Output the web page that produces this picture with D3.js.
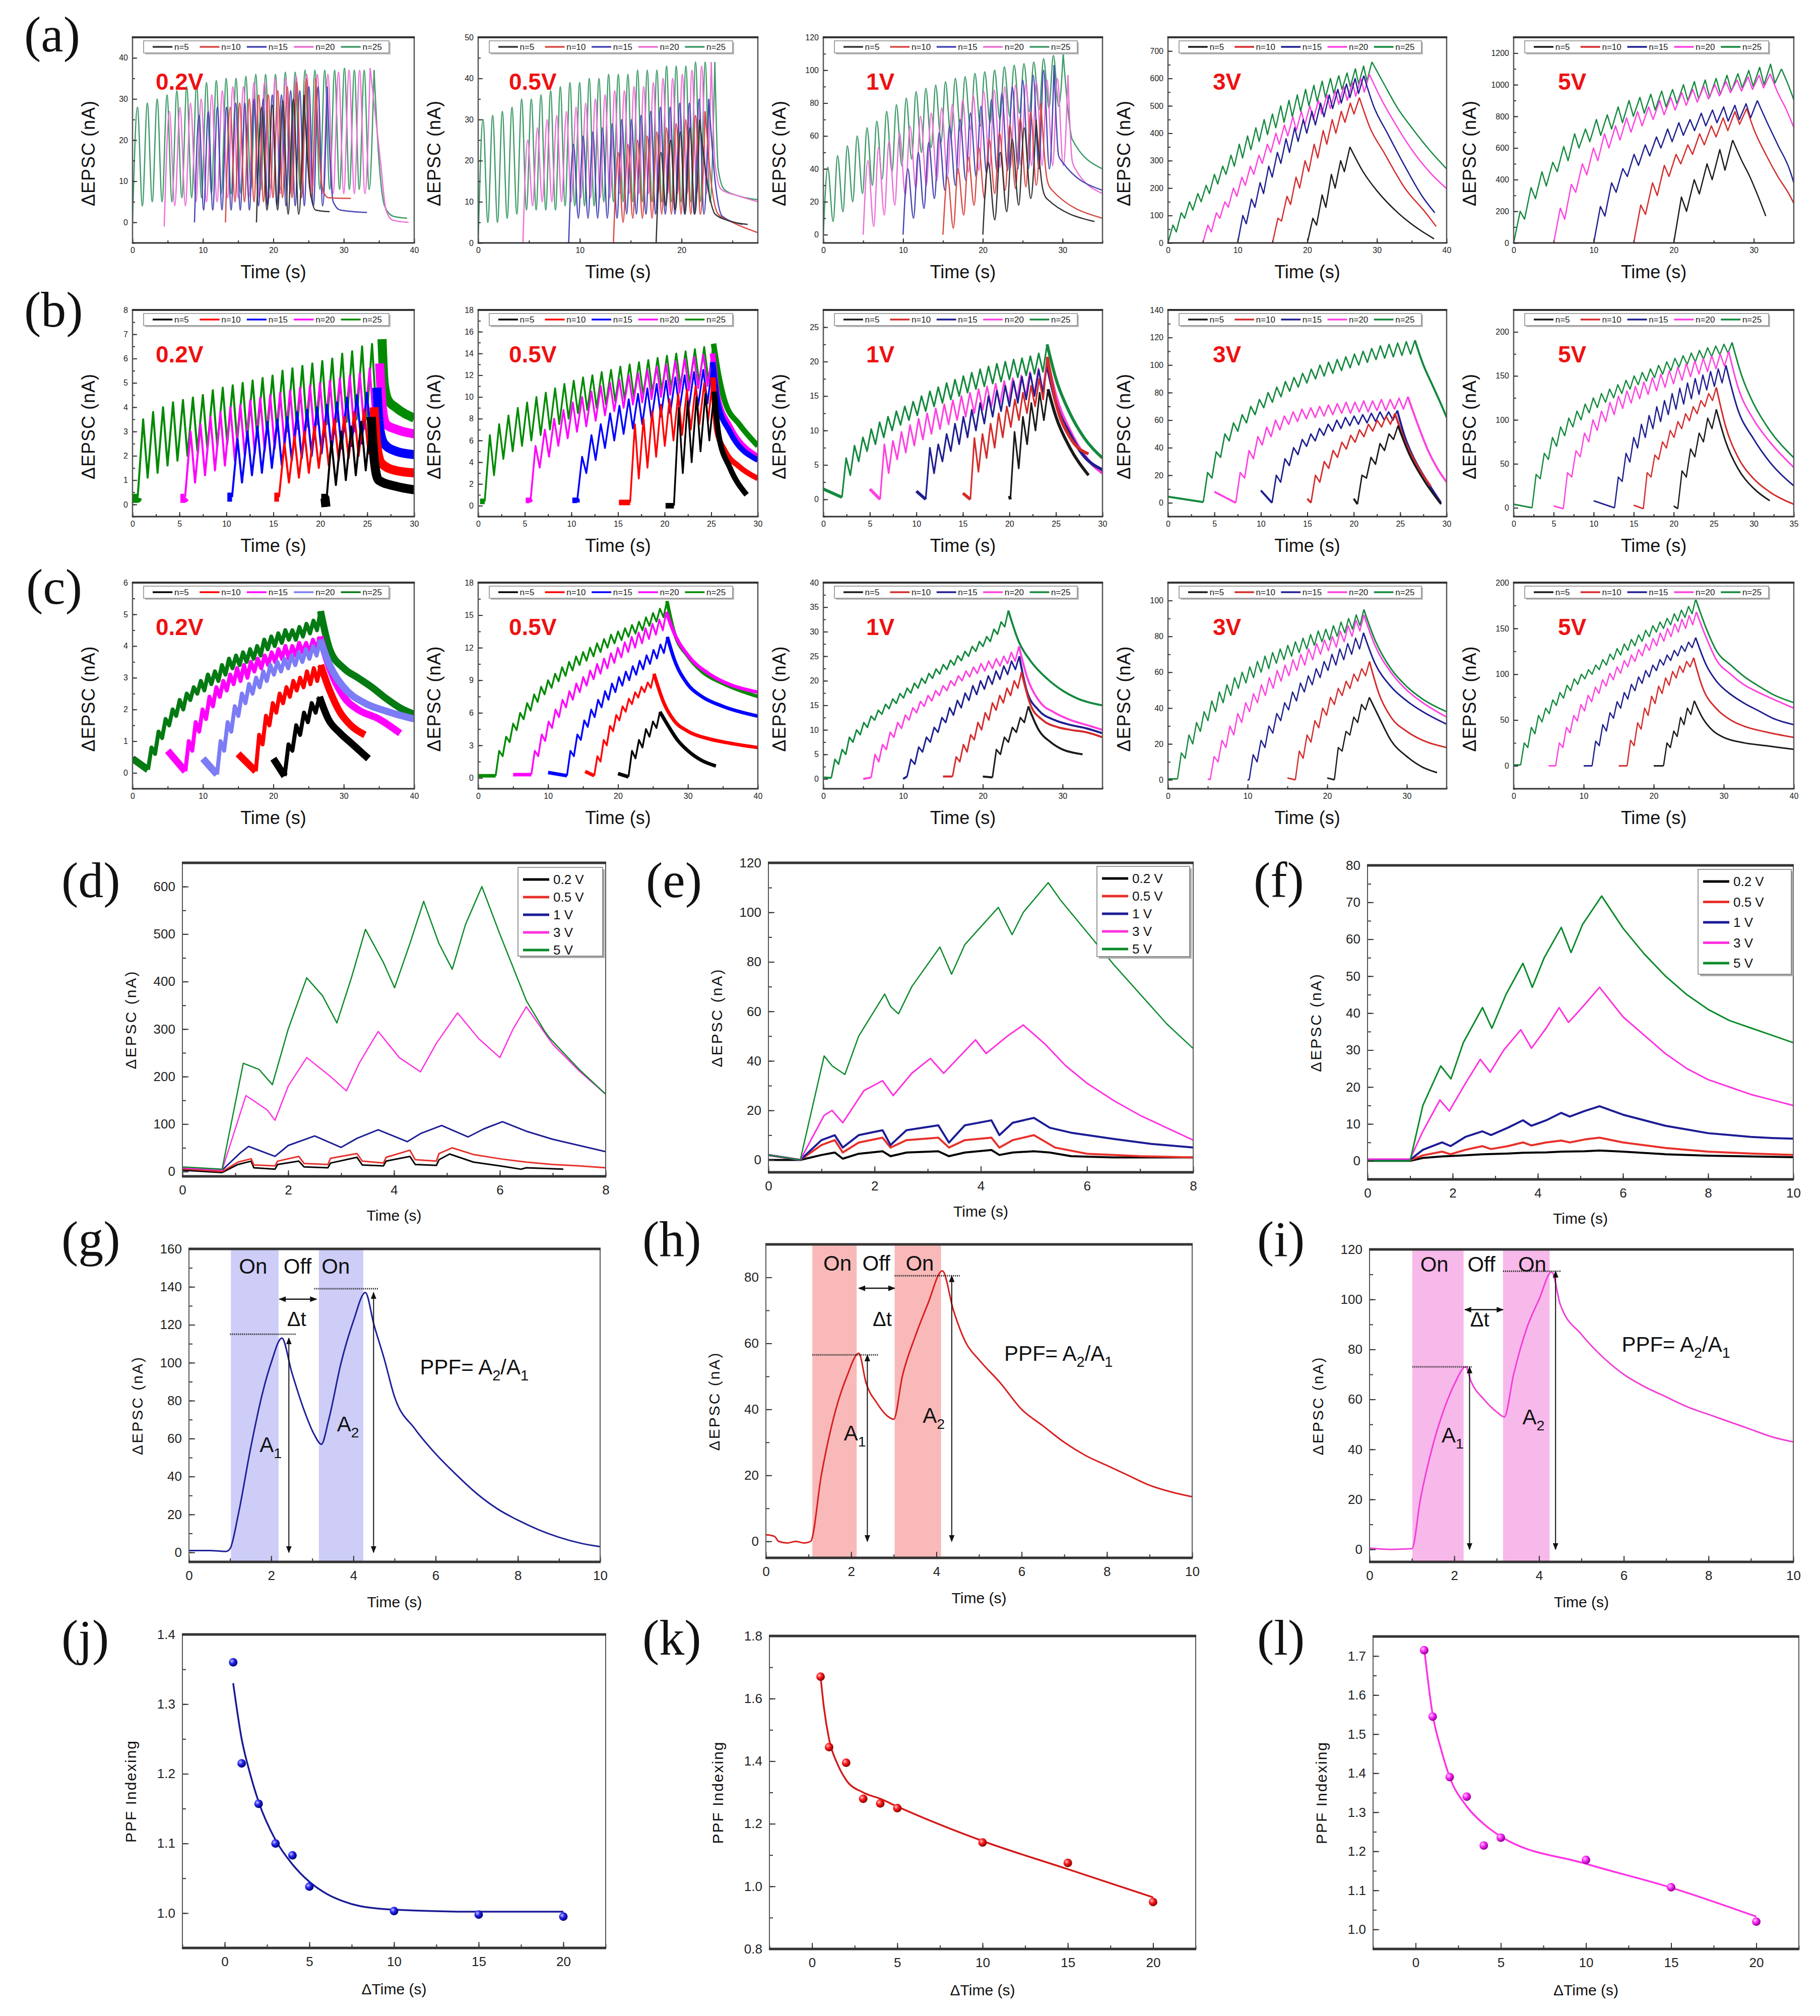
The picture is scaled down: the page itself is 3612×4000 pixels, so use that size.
<!DOCTYPE html>
<html lang="en">
<head>
<meta charset="UTF-8">
<title>EPSC and PPF panels</title>
<script src="https://cdnjs.cloudflare.com/ajax/libs/d3/7.8.5/d3.min.js"></script>
<style>
  body { margin: 0; background: #fff; }
  svg { display: block; font-family: "Liberation Sans", Arial, sans-serif; }
</style>
</head>
<body>
<div id="chart"></div>
<script>
// ================= DATA =================
const nLabels = ["n=5", "n=10", "n=15", "n=20", "n=25"];
const voltLabels = ["0.2V", "0.5V", "1V", "3V", "5V"];
const legendV = ["0.2 V", "0.5 V", "1 V", "3 V", "5 V"];

// grid axes (a1..a5, b1..b5, c1..c5)
const gridXDomain = [[0,40],[0,27.5],[0,35],[0,40],[0,35], [0,30],[0,30],[0,30],[0,30],[0,35], [0,40],[0,40],[0,35],[0,35],[0,40]];
const gridXTicks = [[0,10,20,30,40],[0,10,20],[0,10,20,30],[0,10,20,30,40],[0,10,20,30],
  [0,5,10,15,20,25,30],[0,5,10,15,20,25,30],[0,5,10,15,20,25,30],[0,5,10,15,20,25,30],[0,5,10,15,20,25,30,35],
  [0,10,20,30,40],[0,10,20,30,40],[0,10,20,30],[0,10,20,30],[0,10,20,30,40]];
const gridXMinor = [5,5,5,5,5, 2.5,2.5,2.5,2.5,2.5, 5,5,5,5,5];
const gridYDomain = [[-5,45],[0,50],[-5,120],[0,750],[0,1300], [-0.5,8],[-1,18],[-2.5,27.5],[-10,140],[-10,225], [-0.5,6],[-1,18],[-2,40],[-5,110],[-25,200]];
const gridYTicks = [[0,10,20,30,40],[0,10,20,30,40,50],[0,20,40,60,80,100,120],[0,100,200,300,400,500,600,700],[0,200,400,600,800,1000,1200],
  [0,1,2,3,4,5,6,7,8],[0,2,4,6,8,10,12,14,16,18],[0,5,10,15,20,25],[0,20,40,60,80,100,120,140],[0,50,100,150,200],
  [0,1,2,3,4,5,6],[0,3,6,9,12,15,18],[0,5,10,15,20,25,30,35,40],[0,20,40,60,80,100],[0,50,100,150,200]];
const gridYMinor = [5,5,10,50,100, 0.5,1,2.5,10,25, 0.5,1.5,2.5,10,25];

// ---- row (a) ----  series order: n=5, n=10, n=15, n=20, n=25
const a1Start = [17.6, 13.2, 8.8, 4.5, 0];
const a1Period = [1.5, 1.35, 1.3, 1.5, 1.4];
const a1Trough = [
  [0,3,3,2,2],
  [0,5,5,5,5,6,6,6,6,6],
  [0,3,3,3,3,3,3,4,4,4,4,4,4,4,4],
  [-1,4,4,5,5,5,6,6,6,6,6,7,7,7,7,7,7,7,7,7],
  [0,4,5,5,5,6,6,6,7,7,7,7,8,8,8,8,8,8,8,8,8,8,8,8,8]];
const a1Peak = [
  [28,28.5,29.5,30,31],
  [28,29,30,31,31,32,33,34,35,35],
  [26,27,28,28,29,29,30,30,31,31,32,32,33,33,33],
  [27,28,29,30,31,32,33,33,34,34,35,35,35.5,36,36,36,36.5,37,37,37.5],
  [28,29,30,31,32,33,33.5,34,34.5,35,35,35.5,36,36,36,36.5,36.5,37,37,37,37,37.5,37,37,37]];
const a1Tail = [
  [[25.2,8],[26,3],[28,2.6]],
  [[27,8],[27.8,6],[31,5.8]],
  [[28.5,5],[29.5,3],[33.3,2.4]],
  [[35.2,15],[36,3],[37,0.5],[39.2,0]],
  [[35,15],[35.8,4],[37,1.5],[39,1]]];

const a2Start = [17.5, 13.3, 8.9, 4.4, 0];
const a2Period = [0.95, 0.95, 0.95, 0.95, 0.95];
const a2Trough = [
  [0,9,8,7,7],
  [0,5,6,6,6,7,7,7,7,7],
  [0,6,6,6,6,6,7,7,7,7,7,7,7,7,7],
  [0,9,10,10,10,10,11,11,11,11,12,12,12,12,12,12,12,12,12,12],
  [0,5,5,6,7,8,8,8,8,9,9,9,9,10,10,10,10,10,10,10,10,10,10,10,10]];
const a2Peak = [
  [22,25,27,28,30],
  [22,24,25,26,27,28,29,30,31,32],
  [24,26,27,28,29,30,30,31,32,33,33,34,34,35,35],
  [25,28,30,31,32,33,34,35,36,37,37,38,38,39,40,40,41,42,43,44],
  [30,31,32,33,35,35,36,37,38,39,39,40,40,41,41,41,42,42,42,43,43,43,44,44,44]];
const a2Tail = [
  [[22.5,15],[23.3,7],[24.5,5.5],[26.5,4.5]],
  [[22.9,15],[23.6,7],[25,5],[27.5,2.5]],
  [[23.3,15],[24,6.5],[26,4.5]],
  [[23.3,19],[23.9,13],[25.5,11.5],[27.5,10]],
  [[23.6,18],[24.2,13],[25.5,11.5],[27.5,10.5]]];

const a3Start = [20, 15, 10, 5, 0];
const a3Period = [1.5, 1.3, 1.31, 1.32, 1.23];
const a3Trough = [
  [0,9,14,18,22],
  [0,4,12,18,22,25,27,28,29,30],
  [0,10,16,22,27,30,33,35,37,38,39,40,40,40,40],
  [0,5,12,18,24,28,30,33,35,37,38,39,40,41,41,42,42,42,42,42],
  [0,8,14,20,25,30,34,38,42,46,50,53,56,59,62,64,66,68,70,72,74,75,76,77,78]];
const a3Peak = [
  [44,50,58,65,70],
  [35,40,47,53,58,62,67,71,75,80],
  [40,50,56,62,66,70,74,78,82,86,90,94,97,100,103],
  [45,53,57,62,66,72,74,77,79,82,85,87,88,90,91,92,93,94,95,97],
  [41,48,54,60,65,69,75,79,83,87,89,91,93,95,96,98,99,100,102,103,104,105,107,109,110]];
const a3Tail = [
  [[27.5,28],[28,22],[34,8]],
  [[28,35],[28.5,28],[35,10]],
  [[29.5,48],[30,44],[35,27]],
  [[31.2,45],[31.6,40],[35,25]],
  [[30.8,70],[31.2,58],[35,40]]];

const a4Start = [20, 15, 10, 5, 0];
const a4Period = [1.33, 1.3, 1.24, 1.22, 1.19];
const a4Trough = [
  [0,65,130,200,260],
  [0,80,140,200,260,310,360,400,440,470],
  [0,70,130,180,240,290,330,370,400,430,460,490,510,530,545],
  [0,40,90,130,170,210,250,290,330,360,390,410,430,450,470,490,505,520,535,550],
  [0,40,90,120,150,180,215,250,280,310,340,370,395,420,440,460,480,500,515,530,545,560,570,580,590]];
const a4Peak = [
  [90,175,250,300,350],
  [90,170,240,300,360,410,450,480,510,530],
  [100,160,220,280,330,380,420,450,480,510,540,560,580,600,610],
  [65,110,150,200,240,280,320,360,400,430,460,480,500,520,540,555,570,585,600,615],
  [65,110,150,180,210,250,280,320,360,390,420,450,470,500,520,540,560,575,590,600,610,620,635,645,660]];
const a4Tail = [
  [[28,260],[30,190],[33,110],[36,50],[38.2,15]],
  [[29,420],[31,330],[34,200],[37,110],[38.5,60]],
  [[29.5,500],[31.5,400],[34,280],[36.5,170],[38.3,110]],
  [[30.5,530],[32.5,440],[35,340],[37.5,260],[40,198]],
  [[31,580],[33,490],[35,420],[37.5,340],[40,270]]];

const a5Start = [20, 15, 10, 5, 0];
const a5Period = [1.6, 1.47, 1.4, 1.38, 1.36];
const a5Trough = [
  [0,200,310,400,460],
  [0,180,300,420,500,560,620,670,710,750],
  [0,170,320,420,490,550,600,640,680,710,740,760,770,780,790],
  [0,150,320,430,520,600,650,700,740,780,810,840,870,890,910,930,950,960,970,980],
  [0,150,280,360,450,520,600,640,680,720,760,800,820,840,860,880,900,910,920,940,960,980,990,1000,1010]];
const a5Peak = [
  [290,400,500,590,650],
  [240,380,490,560,620,690,740,790,830,850],
  [230,380,470,560,620,670,720,760,780,820,840,860,870,880,900],
  [220,370,500,600,690,740,790,830,860,900,920,950,970,990,1000,1020,1030,1050,1060,1070],
  [200,350,450,510,610,690,720,780,810,860,900,920,940,960,970,1000,1020,1030,1040,1060,1070,1090,1110,1130,1100]];
const a5Tail = [
  [[28.5,520],[29.5,420],[30.5,300],[31.5,170]],
  [[30,720],[31.5,560],[33,420],[34.5,300],[35,250]],
  [[31.5,780],[33,620],[34.5,460],[35,380]],
  [[33,950],[34,850],[35,730]],
  [[34.3,1000],[35,905]]];

// ---- row (b) ----
const b1Pre = [[[20.1,0.25],[20.5,0.25]], [[15.1,0.3],[15.5,0.3]], [[10.1,0.3],[10.6,0.3]], [[5.1,0.25],[5.5,0.25]], [[0.05,0.25],[0.5,0.25]]];
const b1Start = [20.6, 15.6, 10.6, 5.6, 0.55];
const b1Period = [1.06, 1.06, 1.06, 1.06, 1.06];
const b1Trough = [
  [-0.1,0.8,1.0,1.2,1.4],
  [0.3,0.9,1.1,1.3,1.5,1.6,1.8,1.9,2.0,2.1],
  [0.3,0.9,1.2,1.3,1.5,1.6,1.8,1.9,2.0,2.1,2.2,2.3,2.4,2.5,2.6],
  [0.3,0.9,1.2,1.4,1.6,1.8,2.0,2.1,2.2,2.3,2.4,2.5,2.6,2.7,2.8,2.9,3.0,3.0,3.1,3.1],
  [0.3,1.1,1.3,1.6,1.8,2.0,2.2,2.3,2.4,2.5,2.6,2.7,2.8,2.9,3.0,3.0,3.1,3.2,3.3,3.3,3.4,3.4,3.5,3.5,3.6]];
const b1Peak = [
  [2.6,3.0,3.2,3.4,3.6],
  [2.5,2.8,3.0,3.2,3.4,3.5,3.6,3.8,3.9,4.0],
  [2.7,3.0,3.2,3.4,3.5,3.6,3.8,3.9,4.0,4.1,4.2,4.4,4.5,4.6,4.8],
  [3.0,3.3,3.6,3.8,4.0,4.1,4.3,4.4,4.5,4.6,4.7,4.8,4.9,5.0,5.1,5.2,5.3,5.4,5.6,5.8],
  [3.5,3.8,4.0,4.2,4.3,4.4,4.5,4.7,4.8,4.9,5.0,5.1,5.2,5.3,5.5,5.6,5.7,5.8,5.9,6.0,6.2,6.3,6.5,6.6,6.8]];
const b1Tail = [
  [[25.7,2.0],[26.2,1.0],[28,0.75],[30,0.6]],
  [[26,2.5],[26.5,1.7],[28,1.4],[30,1.3]],
  [[26.3,3.2],[26.8,2.5],[28,2.2],[30,2.05]],
  [[26.6,4.0],[27,3.3],[28,3.1],[30,2.9]],
  [[26.8,5.0],[27.2,4.3],[28,4.0],[30,3.55]]];

const b2Pre = [[[20.1,0.0],[21.0,0.0]], [[15.1,0.3],[16.3,0.3]], [[10.1,0.5],[10.6,0.5]], [[5.1,0.5],[5.5,0.5]], [[0.2,0.4],[0.7,0.4]]];
const b2Start = [21.0, 16.3, 10.6, 5.6, 0.7];
const b2Period = [0.95, 0.93, 1.0, 1.0, 1.0];
const b2Trough = [
  [0.0,3.0,4.0,5.0,6.0],
  [0.3,2.5,3.5,4.5,5.5,6.0,6.5,7.0,7.5,7.8],
  [0.3,3.0,4.2,5.3,6.0,6.6,7.1,7.5,7.9,8.2,8.5,8.8,9.0,9.2,9.4],
  [0.3,3.5,4.5,5.5,6.2,6.8,7.3,7.8,8.3,8.7,9.0,9.3,9.5,9.8,10.0,10.2,10.4,10.6,10.8,11.0],
  [0.4,2.8,4.3,5.0,5.5,6.0,6.5,7.0,7.5,8.0,8.5,8.8,9.0,9.3,9.6,9.8,10.0,10.2,10.4,10.6,10.8,11.0,11.2,11.4,11.5]];
const b2Peak = [
  [9.0,9.6,10.0,10.3,10.5],
  [7.5,8.0,8.7,9.3,9.8,10.3,10.7,11.0,11.3,11.8],
  [4.5,6.5,7.5,8.5,9.2,9.8,10.3,10.8,11.2,11.5,11.8,12.0,12.3,12.5,13.2],
  [5.5,7.0,8.0,8.8,9.5,10.0,10.5,11.0,11.3,11.6,12.0,12.2,12.5,12.8,13.0,13.3,13.5,13.7,13.9,14.0],
  [6.5,7.5,8.3,9.0,9.5,10.0,10.4,10.8,11.2,11.5,11.8,12.0,12.3,12.5,12.8,13.0,13.2,13.4,13.6,13.8,14.0,14.2,14.4,14.6,14.9]];
const b2Tail = [
  [[25.8,6.5],[27,3.5],[28.8,1.0]],
  [[25.6,7.0],[26.5,5.0],[28,3.6],[30,2.5]],
  [[25.7,9.5],[27,6.8],[30,4.2]],
  [[25.7,10],[27,7.3],[30,4.5]],
  [[25.8,12],[26.5,9.5],[28,7.5],[30,5.5]]];

const b3Pre = [[[20,0.5],[20.1,0.0]], [[15,0.9],[15.8,0.0]], [[10,1.2],[11,0.0]], [[5,1.5],[6.1,0.0]], [[0,1.5],[2.0,0.3]]];
const b3Start = [20.1, 15.8, 11, 6.1, 2.0];
const b3Period = [0.9, 0.87, 0.9, 0.92, 0.9];
const b3Trough = [
  [0.0,4.5,8.0,10.0,11.5],
  [0.0,4.0,6.0,7.5,9.0,10.5,11.5,12.5,13.5,14.5],
  [0.0,3.8,5.5,7.0,8.0,9.0,10.0,11.0,12.0,12.8,13.5,14.0,14.5,15.0,15.5],
  [0.0,3.8,5.8,6.8,7.8,8.7,9.5,10.2,10.9,11.5,12.0,12.5,13.0,13.4,13.8,14.2,14.6,15.0,15.3,15.6],
  [0.3,3.5,5.5,7.0,8.0,9.0,10.0,10.8,11.5,12.2,12.8,13.5,14.0,14.5,15.0,15.5,16.0,16.4,16.8,17.1,17.4,17.7,18.0,18.2,18.5]];
const b3Peak = [
  [9.8,12.0,14.0,15.5,16.0],
  [8.9,9.5,11.0,12.5,13.5,14.5,15.5,16.5,17.5,20.7],
  [7.5,8.0,9.5,11.0,12.0,13.0,14.0,15.0,15.8,16.5,17.2,17.8,18.3,18.8,19.5],
  [8.0,8.5,9.8,10.8,11.7,12.5,13.2,13.8,14.4,15.0,15.5,16.0,16.4,16.8,17.2,17.6,18.0,18.5,19.0,20.5],
  [6.0,7.8,9.0,10.2,11.2,12.0,12.8,13.5,14.2,15.0,15.7,16.3,16.9,17.4,17.9,18.4,18.9,19.3,19.7,20.0,20.3,20.5,20.8,21.2,22.5]];
const b3Tail = [
  [[25,12],[26.5,7.5],[28.5,3.5]],
  [[25,14],[26.5,9],[28.5,6.6]],
  [[25,14],[26.5,9.5],[28,6.3],[30,4.3]],
  [[25,15],[26.5,10],[28,6.5],[30,3.8]],
  [[25,17.5],[26.5,12.5],[28,9],[30,6]]];

const b4Pre = [[[20,3],[20.4,-1]], [[15,3],[15.4,0]], [[10,9],[11.2,0]], [[5,8],[7.3,0]], [[0,4.5],[3.8,0.5]]];
const b4Start = [20.4, 15.4, 11.2, 7.3, 3.8];
const b4Period = [0.97, 0.95, 0.93, 0.95, 0.93];
const b4Trough = [
  [-1,18,28,38,46],
  [0,15,25,33,39,44,48,52,55,57],
  [0,15,27,35,41,45,49,52,54,56,57,58,59,60,60],
  [0,18,32,42,48,53,57,59,61,62,63,64,65,65,66,66,67,67,68,68],
  [0.5,18,33,45,52,58,64,69,73,77,81,84,87,90,92,94,96,98,100,102,104,105,106,107,108]];
const b4Peak = [
  [20,33,43,50,56],
  [20,30,38,44,49,53,57,60,63,65],
  [20,32,40,46,50,54,57,60,62,63,64,65,66,66,67],
  [22,38,48,55,60,63,66,68,69,70,71,72,73,73,74,74,75,75,76,77],
  [22,37,50,58,64,70,75,80,84,88,91,94,97,100,102,104,106,108,110,112,114,115,116,117,118]];
const b4Tail = [
  [[26,35],[27.5,17],[29.4,-1]],
  [[25.5,45],[27,25],[28.3,12]],
  [[25.5,48],[26.5,32],[27.5,20],[29.4,0]],
  [[27,55],[28,38],[29,25],[30,15]],
  [[27.5,100],[28.5,85],[29.5,70],[30,62]]];

const b5Pre = [[[20,2],[20.5,-1]], [[15,3],[16.2,-1]], [[10,8],[12.6,0]], [[5,2],[6.2,-1]], [[0,4],[2.3,0]]];
const b5Start = [20.5, 16.2, 12.6, 6.2, 2.3];
const b5Period = [1.07, 0.96, 0.96, 1.06, 1.02];
const b5Trough = [
  [-1,35,58,75,90],
  [-1,35,55,68,80,90,99,107,115,122],
  [0,30,52,68,80,90,98,106,112,118,124,129,134,138,142],
  [-1,35,58,75,88,98,106,113,119,124,129,133,137,141,145,149,152,155,158,161],
  [0,33,55,70,82,92,100,108,114,120,125,130,135,140,144,148,152,156,160,163,166,169,172,174,176]];
const b5Peak = [
  [42,67,85,102,112],
  [40,60,75,88,98,107,115,122,130,137],
  [35,62,80,95,105,115,122,130,136,142,147,151,155,158,162],
  [40,65,85,100,110,120,127,133,138,143,148,152,156,160,164,167,170,173,175,178],
  [38,62,80,92,102,110,118,125,130,135,140,145,150,154,158,162,166,170,173,176,179,182,184,186,188]];
const b5Tail = [
  [[26.5,75],[28,45],[30,22],[32,8]],
  [[26.5,92],[28,58],[30,33],[32,18],[35,4]],
  [[28,112],[30,78],[32,52],[35,25]],
  [[28,138],[30,100],[32,75],[35,46]],
  [[28.5,150],[30,118],[32,88],[35,57]]];

// ---- row (c) ----  (c1 trace order: start 20, 15, 10, 5, 0)
const c1Pre = [[[20,0.45],[21.6,-0.1]], [[15,0.6],[17.5,0.05]], [[10,0.45],[12,-0.05]], [[5,0.7],[7.5,0.05]], [[0,0.45],[2.2,0.1]]];
const c1Start = [21.6, 17.5, 12, 7.5, 2.2];
const c1Period = [1.1, 0.97, 1.01, 0.98, 1.0];
const c1Trough = [
  [-0.1,0.7,1.2,1.6,1.9],
  [0.05,0.9,1.5,1.9,2.2,2.4,2.6,2.7,2.8,2.9],
  [-0.05,0.7,1.3,1.8,2.2,2.5,2.7,2.9,3.1,3.2,3.3,3.4,3.5,3.6,3.7],
  [0.05,0.7,1.3,1.7,2.1,2.4,2.6,2.8,2.9,3.0,3.2,3.3,3.4,3.5,3.6,3.6,3.7,3.8,3.8,3.9],
  [0.1,0.6,1.1,1.5,1.8,2.0,2.3,2.5,2.6,2.8,2.9,3.1,3.3,3.4,3.5,3.6,3.7,3.9,4.0,4.1,4.2,4.2,4.3,4.4,4.5]];
const c1Peak = [
  [0.9,1.5,1.9,2.2,2.4],
  [1.2,1.8,2.2,2.5,2.7,2.9,3.0,3.2,3.3,3.4],
  [1.0,1.6,2.1,2.5,2.8,3.0,3.2,3.4,3.5,3.6,3.7,3.8,3.9,4.0,4.2],
  [1.0,1.6,2.0,2.4,2.7,2.9,3.1,3.3,3.4,3.5,3.6,3.7,3.8,3.9,4.0,4.0,4.1,4.1,4.2,4.3],
  [0.8,1.3,1.7,2.0,2.3,2.5,2.7,2.9,3.1,3.2,3.4,3.6,3.7,3.8,3.9,4.0,4.2,4.3,4.4,4.5,4.5,4.6,4.7,4.8,5.1]];
const c1Tail = [
  [[27.8,1.7],[29.5,1.25],[31,0.95],[33.5,0.45]],
  [[28,2.6],[29.5,1.9],[31,1.5],[33,1.2]],
  [[28,3.4],[30,2.7],[33,2.2],[36,1.95],[40,1.7]],
  [[28,3.3],[30,2.4],[32,2.0],[35,1.7],[38,1.25]],
  [[28,3.9],[30,3.3],[32,3.0],[34,2.7],[36,2.35],[38,2.05],[40,1.85]]];

const c2Pre = [[[20,0.4],[21.5,0.1]], [[15.3,0.6],[16.6,0.2]], [[10,0.5],[12.7,0.2]], [[5,0.3],[7.6,0.3]], [[0,0.2],[2.5,0.2]]];
const c2Start = [21.5, 16.6, 12.7, 7.6, 2.5];
const c2Period = [1.0, 0.9, 0.99, 0.99, 1.0];
const c2Trough = [
  [0.1,1.8,2.8,3.8,4.6],
  [0.2,1.5,3.0,4.3,5.3,6.1,6.8,7.4,7.9,8.3],
  [0.2,2.0,3.5,4.7,5.6,6.5,7.2,7.9,8.5,9.0,9.5,10.0,10.5,11.0,11.5],
  [0.3,2.0,3.4,4.6,5.6,6.5,7.2,7.9,8.5,9.1,9.6,10.1,10.6,11.1,11.6,12.0,12.4,12.8,13.2,13.6],
  [0.2,2.0,3.3,4.4,5.4,6.2,7.0,7.7,8.3,8.9,9.4,9.9,10.4,10.8,11.2,11.6,12.0,12.4,12.7,13.0,13.3,13.6,14.0,14.4,14.8]];
const c2Peak = [
  [2.5,3.5,4.5,5.2,6.1],
  [2.0,3.5,4.8,5.8,6.6,7.3,7.9,8.4,8.8,9.6],
  [2.5,4.0,5.3,6.3,7.2,8.0,8.7,9.3,9.8,10.3,10.8,11.3,11.8,12.3,13.0],
  [2.5,4.0,5.2,6.3,7.2,8.0,8.7,9.3,9.9,10.5,11.0,11.5,12.0,12.5,13.0,13.4,13.8,14.2,14.6,15.3],
  [2.5,3.8,5.0,6.0,6.9,7.7,8.4,9.0,9.6,10.2,10.7,11.2,11.6,12.0,12.4,12.8,13.2,13.5,13.8,14.1,14.4,14.8,15.2,15.6,16.3]];
const c2Tail = [
  [[27,5],[28.5,3.5],[30,2.5],[32,1.6],[34,1.1]],
  [[26.5,7.0],[28,5.3],[30,4.3],[33,3.6],[36,3.2],[40,2.8]],
  [[28,11],[30,8.6],[32,7.5],[35,6.6],[40,5.7]],
  [[28,13.4],[30,11.3],[33,9.6],[36,8.6],[40,7.9]],
  [[28,13.5],[30,11.2],[32,9.8],[35,8.7],[40,7.5]]];

const c3Pre = [[[20,0.5],[21.2,0.3]], [[15,0.5],[16.2,0.5]], [[10,0.0],[10.5,0.5]], [[5,0.0],[6.0,0.3]], [[0,0.3],[1.0,0.2]]];
const c3Start = [21.2, 16.2, 10.5, 6.0, 1.0];
const c3Period = [1.0, 0.91, 0.97, 0.95, 0.906];
const c3Trough = [
  [0.3,5.0,7.5,9.5,11.5],
  [0.5,3.5,5.5,8.0,10.0,12.0,14.0,15.5,17.0,18.5],
  [0.5,3.0,5.5,7.5,9.5,11.5,13.0,14.5,16.0,17.2,18.3,19.3,20.3,21.3,22.3],
  [0.3,3.5,6.0,8.5,10.3,12.0,13.5,14.8,15.9,17.0,18.0,19.0,20.0,20.8,21.5,22.0,22.5,23.0,23.5,24.0],
  [0.2,3.0,5.0,7.5,9.0,10.5,12.0,13.2,14.3,15.4,16.5,17.5,18.5,19.5,20.5,21.4,22.3,23.2,24.1,25.0,26.0,27.0,28.0,29.5,31.0]];
const c3Peak = [
  [6.0,8.5,10.5,12.5,14.8],
  [4.5,7.0,9.0,11.5,13.5,15.5,17.0,18.5,20.0,21.8],
  [4.0,6.5,8.5,10.5,12.5,14.5,16.0,17.5,19.0,20.0,21.0,22.0,23.0,24.0,25.0],
  [5.0,7.0,9.5,11.5,13.0,14.5,15.8,17.0,18.0,19.0,20.0,21.0,22.0,22.8,23.5,24.0,24.5,25.0,25.8,27.0],
  [4.0,6.0,8.5,10.0,11.5,12.8,14.0,15.2,16.3,17.4,18.5,19.5,20.5,21.5,22.4,23.3,24.2,25.1,26.0,27.0,28.0,29.0,30.5,32.0,34.3]];
const c3Tail = [
  [[27,10],[28.5,7.5],[30,6],[31.5,5.3],[32.5,5]],
  [[26,15],[27.5,12],[29.5,10.5],[31,10],[33,9.5],[35,8.5]],
  [[25.5,18],[27,14],[29,12],[31,11],[33,10.3],[35,9.3]],
  [[25.5,21],[27,16],[29,13.5],[31,12],[33,11],[35,10]],
  [[24.5,28],[26,24],[28,20.5],[30,18],[32,16.3],[35,15]]];

const c4Pre = [[[20,1],[20.9,0]], [[15,1],[16,0]], [[10,0],[10.2,0]], [[5,0.5],[5.3,0]], [[0,0.5],[1.2,0.5]]];
const c4Start = [20.9, 16, 10.2, 5.3, 1.2];
const c4Period = [0.975, 0.98, 0.99, 0.99, 0.955];
const c4Trough = [
  [0,16,25,32,39],
  [0,12,21,29,36,42,47,51,55,58],
  [0,10,18,26,33,39,44,49,53,57,61,64,67,70,73],
  [0,10,18,25,32,38,43,47,51,55,58,61,64,67,70,72,74,77,80,83],
  [0.5,12,20,27,33,38,43,47,51,54,57,60,62,65,67,69,71,73,75,77,78,80,82,84,86]];
const c4Peak = [
  [18,27,35,42,46],
  [16,25,33,40,46,51,55,59,62,66],
  [14,22,30,37,43,49,54,58,62,66,70,73,76,79,82],
  [13,22,30,37,43,48,53,57,61,64,67,70,73,76,78,80,83,86,89,92],
  [15,25,32,38,44,49,53,57,60,63,66,69,71,73,75,77,79,81,83,84,86,88,90,92,95]];
const c4Tail = [
  [[26.5,35],[28,22],[30,13],[32,7],[33.8,4]],
  [[26.5,48],[28,35],[30,27],[32,22],[35,18]],
  [[26,65],[28,52],[30,44],[32,38],[35,31]],
  [[26,75],[28,60],[30,50],[32,43],[35,35]],
  [[26,78],[28,62],[30,52],[32,45],[35,38]]];

const c5Pre = [[[20,0],[21.4,0]], [[15,0],[16.2,0]], [[10,0],[11.2,0]], [[5,0],[6,0]], [[0,1],[1,1]]];
const c5Start = [21.4, 16.2, 11.2, 6, 1.0];
const c5Period = [0.975, 1.0, 1.02, 1.03, 1.02];
const c5Trough = [
  [0,20,32,45,56],
  [0,22,40,55,68,79,88,96,102,108],
  [0,22,38,52,63,73,82,90,97,104,110,115,120,125,129],
  [0,20,36,49,60,70,79,87,94,101,108,114,120,126,131,136,141,146,150,154],
  [1,20,35,48,57,66,74,82,89,95,100,105,110,116,121,126,131,136,141,146,150,154,158,162,166]];
const c5Peak = [
  [25,38,53,63,71],
  [28,47,63,76,87,96,103,109,114,118],
  [27,45,58,70,80,89,97,104,110,116,121,126,131,135,140],
  [25,42,55,67,77,86,94,101,108,115,121,127,133,139,145,150,155,160,164,168],
  [25,42,55,63,72,80,88,95,100,105,110,116,122,128,133,138,143,148,153,157,161,166,170,174,182]];
const c5Tail = [
  [[27,52],[28.5,38],[30,31],[33,25],[36,22],[40,18]],
  [[27,85],[29,62],[31,50],[33,43],[36,37],[40,31]],
  [[27.5,110],[29,92],[31,78],[33,68],[35,60],[37,52],[40,45]],
  [[27.5,140],[29,115],[31,100],[33,88],[35,80],[37,73],[40,63]],
  [[27.5,150],[29,125],[31,110],[33,97],[35,87],[37,78],[40,69]]];

// ---- (d)(e)(f): order 0.2 V, 0.5 V, 1 V, 3 V, 5 V ----
const dV02 = [[0,3],[0.75,-2],[1.05,15],[1.3,22],[1.35,8],[1.75,5],[1.8,15],[2.2,22],[2.3,10],[2.75,8],[2.8,18],[3.3,30],[3.4,14],[3.8,12],[3.85,22],[4.3,32],[4.4,15],[4.8,13],[4.85,25],[5.05,37],[5.5,20],[6,12],[6.4,5],[6.5,8],[7.2,5]];
const dV05 = [[0,6],[0.75,0],[1.05,20],[1.3,27],[1.35,14],[1.75,12],[1.8,22],[2.2,32],[2.3,17],[2.75,15],[2.8,28],[3.3,38],[3.4,22],[3.8,18],[3.85,30],[4.3,45],[4.4,25],[4.8,22],[4.85,38],[5.1,50],[5.5,36],[6,27],[6.5,20],[7,15],[7.5,12],[8,8]];
const dV1 = [[0,8],[0.75,3],[1.1,40],[1.25,53],[1.75,32],[2.0,55],[2.5,75],[3.0,51],[3.3,70],[3.7,88],[4.25,63],[4.5,80],[4.9,97],[5.4,73],[5.7,90],[6.05,105],[6.5,85],[7,68],[7.5,55],[8,42]];
const dV3 = [[0,8],[0.75,3],[1.2,160],[1.6,130],[1.75,108],[2.0,180],[2.35,240],[2.8,200],[3.1,170],[3.35,230],[3.7,295],[4.1,240],[4.5,210],[4.8,270],[5.2,334],[5.6,280],[6.0,240],[6.25,300],[6.5,347],[7.0,268],[7.5,212],[8,163]];
const dV5 = [[0,10],[0.75,5],[1.15,228],[1.45,215],[1.7,183],[2.0,300],[2.35,408],[2.65,370],[2.92,313],[3.2,410],[3.46,510],[3.8,440],[4.01,387],[4.3,480],[4.56,569],[4.85,480],[5.1,426],[5.35,520],[5.66,600],[6.0,500],[6.5,360],[6.85,295],[6.95,280],[7.5,215],[8,163]];

const eV02 = [[0,0],[0.6,0],[1.0,2],[1.25,3],[1.4,0.5],[1.7,2.5],[2.15,3.5],[2.3,1.5],[2.6,3],[3.2,3.5],[3.4,1.5],[3.7,3],[4.2,4],[4.35,2],[4.6,3],[5.0,3.5],[5.3,3],[5.7,1.5],[6.5,1],[8,1]];
const eV05 = [[0,2],[0.6,0],[1.0,6],[1.25,8],[1.4,3],[1.7,7],[2.15,9],[2.3,5],[2.6,8],[3.2,9],[3.4,5],[3.7,8],[4.2,9],[4.35,5],[4.6,8],[5.0,10],[5.4,5],[6,2.5],[7,1.5],[8,1]];
const eV1 = [[0,2],[0.6,0],[1.0,8],[1.25,10],[1.4,5],[1.7,10],[2.15,12],[2.3,6],[2.6,12],[3.2,14],[3.4,7],[3.7,14],[4.2,16],[4.35,10],[4.6,15],[5.0,17],[5.3,13],[5.7,11],[6.5,8.5],[7.2,6.5],[8,5]];
const eV3 = [[0,2],[0.6,0],[1.05,18],[1.2,20],[1.4,15],[1.8,28],[2.15,32],[2.35,26],[2.7,35],[3.05,41],[3.3,35],[3.7,44],[3.9,48.5],[4.1,43],[4.5,50],[4.8,54.5],[5.2,47],[5.6,38],[6,31],[6.5,24],[7,18],[7.5,13],[8,8]];
const eV5 = [[0,2],[0.6,0],[1.05,42],[1.2,38],[1.44,34.5],[1.7,50],[2.19,67],[2.3,62],[2.45,59],[2.7,70],[3.23,86],[3.45,75],[3.7,87],[4.33,102],[4.59,91],[4.8,100],[5.27,112],[5.5,105],[6,92],[6.5,79],[7,67],[7.5,55],[8,45]];

const fV02 = [[0,0],[1.0,0],[1.3,0.8],[1.75,1.2],[2.3,1.5],[2.7,1.8],[3.3,2],[3.65,2.2],[4.2,2.3],[4.55,2.5],[5.1,2.6],[5.45,2.8],[6,2.5],[7,1.8],[8,1.4],[9,1.2],[10,1.0]];
const fV05 = [[0,0.3],[1.0,0.2],[1.3,1.5],[1.75,2.5],[1.95,1.8],[2.3,3],[2.7,4],[2.9,3.2],[3.3,4],[3.65,5],[3.85,4.2],[4.2,5],[4.55,5.5],[4.75,5],[5.1,5.8],[5.45,6.3],[6,5],[7,3.5],[8,2.5],[9,2],[10,1.6]];
const fV1 = [[0,0.3],[1.0,0.3],[1.3,3],[1.75,5],[1.95,4],[2.3,6.5],[2.7,8],[2.9,7],[3.3,9],[3.65,11],[3.85,9.5],[4.2,11],[4.55,13],[4.75,12],[5.1,13.5],[5.45,14.8],[6,12.5],[6.5,11],[7,9.5],[7.5,8.5],[8,7.5],[8.5,7],[9,6.5],[9.5,6.2],[10,6]];
const fV3 = [[0,0.5],[1.0,0.5],[1.3,8],[1.7,16.5],[1.92,13.5],[2.3,21],[2.65,27.5],[2.88,24],[3.2,30],[3.6,35.5],[3.85,30.5],[4.2,36],[4.5,41.5],[4.72,37.5],[5.0,41],[5.45,47],[6,39],[6.5,34],[7,29],[7.5,25],[8,22],[8.5,20],[9,18],[9.5,16.5],[10,15]];
const fV5 = [[0,0],[1.0,0],[1.3,15],[1.72,25.7],[1.96,22.2],[2.25,32],[2.7,41.5],[2.92,35.9],[3.25,45],[3.65,53.5],[3.87,47],[4.15,55],[4.55,63.2],[4.78,56.4],[5.05,64],[5.5,71.7],[6,63],[6.5,56],[7,50],[7.5,45],[8,41],[8.5,38],[9,36],[9.5,34],[10,32]];

// ---- (g)(h)(i) paired-pulse traces ----
const gCurve = [[0,1],[0.5,1],[0.9,0.5],[1.0,2],[1.2,20],[1.5,55],[1.8,85],[2.0,100],[2.26,113],[2.5,95],[2.8,75],[3.05,62],[3.22,57],[3.4,70],[3.7,100],[4.0,122],[4.29,137],[4.5,120],[4.75,102],[5,82],[5.5,65],[6,52],[6.5,41],[7,31],[7.5,23],[8,17],[8.5,12],[9,8],[9.5,5],[10,3]];
const hCurve = [[0,2],[0.2,1.5],[0.3,0],[0.5,-0.5],[0.7,0],[0.9,-0.5],[1.05,0],[1.3,20],[1.6,38],[1.9,50],[2.18,57],[2.35,48],[2.6,42],[2.85,38],[3.0,37],[3.2,50],[3.5,62],[3.8,72],[4.14,82],[4.4,70],[4.7,60],[5,55],[5.5,48],[6,40],[6.5,35],[7,30],[7.5,26],[8,23],[8.5,20],[9,17],[9.5,15],[10,13.5]];
const iCurve = [[0,0.5],[0.5,0],[1.0,0.3],[1.2,20],[1.5,42],[1.8,58],[2.0,66],[2.27,73],[2.4,67],[2.7,60],[3.0,55],[3.18,53],[3.4,70],[3.7,88],[4.0,100],[4.3,111],[4.5,98],[5,86],[5.5,77],[6,70],[6.5,65],[7,61],[7.5,57],[8,54],[8.5,51],[9,48],[9.5,45],[10,43]];
const gOn = [[1.02,2.18],[3.16,4.24]];
const hOn = [[1.09,2.13],[3.02,4.11]];
const iOn = [[1.01,2.22],[3.15,4.25]];

// ---- (j)(k)(l) PPF ----
const deltaT = [0.5, 1, 2, 3, 4, 5, 10, 15, 20];
const jPPF = [1.36, 1.215, 1.157, 1.10, 1.083, 1.038, 1.003, 0.998, 0.995];
const kPPF = [1.67, 1.445, 1.395, 1.28, 1.265, 1.25, 1.14, 1.075, 0.95];
const lPPF = [1.715, 1.545, 1.39, 1.34, 1.215, 1.235, 1.178, 1.108, 1.02];
const jFit = [[0.5,1.33],[1,1.25],[1.5,1.2],[2,1.16],[3,1.105],[4,1.07],[5,1.045],[6,1.028],[7,1.017],[8,1.01],[10,1.005],[15,1.002],[20,1.002]];
const kFit = [[0.5,1.67],[0.7,1.57],[1.0,1.47],[1.5,1.39],[2,1.34],[3,1.3],[4,1.28],[5,1.255],[10,1.145],[15,1.055],[20,0.965]];
const lFit = [[0.5,1.72],[1,1.55],[1.5,1.46],[2,1.39],[3,1.315],[4,1.27],[5,1.238],[10,1.168],[15,1.107],[20,1.033]];

// ================= STYLE / LAYOUT =================
const palRowA = ["#333333", "#d94a45", "#4646b4", "#ec6fd6", "#3f9b69"];
const palBright = ["#000000", "#ff0000", "#0000ff", "#ff00ff", "#008a00"];
const palOrigin = ["#1a1a1a", "#d42b2b", "#1e1e90", "#ff40e0", "#13893d"];
const palC1Trace = ["#000000", "#ff0000", "#7c7cf6", "#ff00ff", "#047a12"];
const palC1Legend = ["#000000", "#ff0000", "#ff00ff", "#7c7cf6", "#047a12"];
const palLow = ["#000000", "#e8302a", "#1c1c96", "#ff30e0", "#0a8a2a"];

const colX = [[263, 822], [949, 1504], [1634, 2188], [2318, 2871], [3004, 3560]];
const rowY = [[74, 482], [615, 1025], [1156, 1565]];
const voltDx = [46, 61, 85, 89, 88];

const W = 3612, H = 4000;
const svg = d3.select("#chart").append("svg")
  .attr("width", W).attr("height", H).attr("viewBox", `0 0 ${W} ${H}`);
svg.append("rect").attr("width", W).attr("height", H).attr("fill", "#fff");
const defs = svg.append("defs");

defs.append("marker").attr("id", "ah").attr("viewBox", "0 0 10 10")
  .attr("refX", 9).attr("refY", 5).attr("markerWidth", 14).attr("markerHeight", 14)
  .attr("markerUnits", "userSpaceOnUse").attr("orient", "auto-start-reverse")
  .append("path").attr("d", "M0,1 L10,5 L0,9 z").attr("fill", "#111");

function ballGradient(id, light, mid, dark) {
  const gr = defs.append("radialGradient").attr("id", id).attr("cx", "35%").attr("cy", "35%").attr("r", "65%");
  gr.append("stop").attr("offset", "0%").attr("stop-color", light);
  gr.append("stop").attr("offset", "45%").attr("stop-color", mid);
  gr.append("stop").attr("offset", "100%").attr("stop-color", dark);
}
ballGradient("ballBlue", "#c8c8ff", "#2626ee", "#00007a");
ballGradient("ballRed", "#ffc8c8", "#ff1a1a", "#8a0000");
ballGradient("ballMag", "#ffd0ff", "#ff2aff", "#900090");

let clipCount = 0;
// box = [x0, x1, y0, y1]
function makePanel(box, xd, yd, xt, yt, xMinor, yMinor, o) {
  const x = d3.scaleLinear().domain(xd).range([box[0], box[1]]);
  const y = d3.scaleLinear().domain(yd).range([box[3], box[2]]);
  const id = "clip" + (clipCount++);
  defs.append("clipPath").attr("id", id).append("rect")
    .attr("x", box[0]).attr("y", box[2]).attr("width", box[1] - box[0]).attr("height", box[3] - box[2]);
  const under = svg.append("g");
  const plot = svg.append("g").attr("clip-path", `url(#${id})`);
  const ax = svg.append("g");
  const minorVals = (d, step) => d3.range(Math.ceil(d[0] / step - 1e-9) * step, d[1] + 1e-9, step);
  const fmtX = o.fmtX || (d => d);
  const fmtY = o.fmtY || (d => d);

  ax.append("g").attr("transform", `translate(0,${box[3]})`)
    .call(d3.axisBottom(x).tickValues(minorVals(xd, xMinor)).tickSize(-o.minor).tickFormat(""));
  ax.append("g").attr("transform", `translate(${box[0]},0)`)
    .call(d3.axisLeft(y).tickValues(minorVals(yd, yMinor)).tickSize(-o.minor).tickFormat(""));
  ax.append("g").attr("transform", `translate(0,${box[3]})`)
    .call(d3.axisBottom(x).tickValues(xt).tickSize(-o.major).tickPadding(o.padX).tickFormat(fmtX));
  ax.append("g").attr("transform", `translate(${box[0]},0)`)
    .call(d3.axisLeft(y).tickValues(yt).tickSize(-o.major).tickPadding(o.padY).tickFormat(fmtY));
  ax.selectAll(".domain").remove();
  ax.selectAll(".tick line").attr("stroke", "#333").attr("stroke-width", 2);
  ax.selectAll(".tick text").attr("font-size", o.tickFont).attr("fill", "#222")
    .attr("font-family", "'Liberation Sans', Arial, sans-serif");

  // frame
  const fr = ax.append("g").attr("fill", "none");
  fr.append("line").attr("x1", box[0]).attr("x2", box[0]).attr("y1", box[2]).attr("y2", box[3]).attr("stroke", "#555").attr("stroke-width", o.side);
  fr.append("line").attr("x1", box[1]).attr("x2", box[1]).attr("y1", box[2]).attr("y2", box[3]).attr("stroke", "#555").attr("stroke-width", o.side);
  fr.append("line").attr("x1", box[0] - o.side / 2).attr("x2", box[1] + o.side / 2).attr("y1", box[2]).attr("y2", box[2]).attr("stroke", "#333").attr("stroke-width", o.top);
  fr.append("line").attr("x1", box[0] - o.side / 2).attr("x2", box[1] + o.side / 2).attr("y1", box[3]).attr("y2", box[3]).attr("stroke", "#333").attr("stroke-width", o.bottom);

  // axis titles
  const cx = (box[0] + box[1]) / 2, cy = (box[2] + box[3]) / 2;
  ax.append("text").attr("x", cx).attr("y", box[3] + o.xTitleDy).attr("text-anchor", "middle")
    .attr("font-size", o.titleFont).attr("fill", "#111").text(o.xTitle);
  ax.append("text").attr("transform", `translate(${box[0] - o.yTitleDx},${cy + o.yTitleDy}) rotate(-90)`)
    .attr("text-anchor", "middle").attr("dominant-baseline", "middle")
    .attr("font-size", o.yTitleFont).attr("letter-spacing", o.yTitleSpacing).attr("fill", "#111").text(o.yTitle);
  return { x, y, plot, under, ax };
}

// ================= GRID PANELS (a)-(c) =================
const gridData = [
  [a1Start, a1Period, a1Trough, a1Peak, a1Tail, null],
  [a2Start, a2Period, a2Trough, a2Peak, a2Tail, null],
  [a3Start, a3Period, a3Trough, a3Peak, a3Tail, null],
  [a4Start, a4Period, a4Trough, a4Peak, a4Tail, null],
  [a5Start, a5Period, a5Trough, a5Peak, a5Tail, null],
  [b1Start, b1Period, b1Trough, b1Peak, b1Tail, b1Pre],
  [b2Start, b2Period, b2Trough, b2Peak, b2Tail, b2Pre],
  [b3Start, b3Period, b3Trough, b3Peak, b3Tail, b3Pre],
  [b4Start, b4Period, b4Trough, b4Peak, b4Tail, b4Pre],
  [b5Start, b5Period, b5Trough, b5Peak, b5Tail, b5Pre],
  [c1Start, c1Period, c1Trough, c1Peak, c1Tail, c1Pre],
  [c2Start, c2Period, c2Trough, c2Peak, c2Tail, c2Pre],
  [c3Start, c3Period, c3Trough, c3Peak, c3Tail, c3Pre],
  [c4Start, c4Period, c4Trough, c4Peak, c4Tail, c4Pre],
  [c5Start, c5Period, c5Trough, c5Peak, c5Tail, c5Pre]
];
// rise fraction, smooth?, line width, pre/tail width, trace colours, legend colours
const gridLook = [
  [0.5, true, 2.5, 2.5, palRowA, palRowA], [0.5, true, 2.5, 2.5, palRowA, palRowA], [0.45, true, 2.5, 2.5, palRowA, palRowA],
  [0.6, false, 2.5, 2.5, palOrigin, palOrigin], [0.6, false, 2.5, 2.5, palOrigin, palOrigin],
  [0.55, false, 4, 18, palBright, palBright], [0.55, false, 3.5, 11, palBright, palBright], [0.5, false, 3.2, 6, palOrigin, palOrigin],
  [0.5, false, 2.8, 4, palOrigin, palOrigin], [0.5, false, 2.5, 3, palOrigin, palOrigin],
  [0.5, false, 8, 14, palC1Trace, palC1Legend], [0.5, false, 3.5, 7, palBright, palBright], [0.5, false, 3, 4, palOrigin, palOrigin],
  [0.5, false, 2.5, 3, palOrigin, palOrigin], [0.5, false, 2.5, 3, palOrigin, palOrigin]
];

gridData.forEach((gd, p) => {
  const row = Math.floor(p / 5), col = p % 5;
  const box = [colX[col][0], colX[col][1], rowY[row][0], rowY[row][1]];
  const [start, period, trough, peak, tail, pre] = gd;
  const [rise, smooth, lw, tw, traceCol, legCol] = gridLook[p];
  const P = makePanel(box, gridXDomain[p], gridYDomain[p], gridXTicks[p], gridYTicks[p], gridXMinor[p], gridYMinor[p], {
    minor: 5, major: 9, padX: 9, padY: 9, tickFont: 16, side: 2.5, top: 4, bottom: 3,
    titleFont: 36, xTitle: "Time (s)", xTitleDy: 70, yTitle: "\u0394EPSC (nA)", yTitleDx: 85, yTitleDy: 26,
    yTitleFont: 36, yTitleSpacing: 1
  });
  const line = d3.line().x(d => P.x(d[0])).y(d => P.y(d[1]))
    .curve(smooth ? d3.curveMonotoneX : d3.curveLinear);
  const tailLine = d3.line().x(d => P.x(d[0])).y(d => P.y(d[1])).curve(d3.curveMonotoneX);

  for (let i = 4; i >= 0; i--) {
    const pts = [];
    peak[i].forEach((pk, k) => {
      pts.push([start[i] + k * period[i], trough[i][k]]);
      pts.push([start[i] + k * period[i] + rise * period[i], pk]);
    });
    const c = traceCol[i];
    if (pre) {
      P.plot.append("path").attr("d", line(pre[i].concat([pts[0]])))
        .attr("fill", "none").attr("stroke", c).attr("stroke-width", tw).attr("stroke-linejoin", "round");
    }
    P.plot.append("path").attr("d", line(pts))
      .attr("fill", "none").attr("stroke", c).attr("stroke-width", lw).attr("stroke-linejoin", "round");
    P.plot.append("path").attr("d", tailLine([pts[pts.length - 1]].concat(tail[i])))
      .attr("fill", "none").attr("stroke", c).attr("stroke-width", Math.max(lw, tw)).attr("stroke-linejoin", "round");
  }

  // legend
  const lx0 = box[0] + 22, lx1 = box[1] - 50, ly = box[2] + 7, lh = 24;
  P.ax.append("rect").attr("x", lx0 + 3).attr("y", ly + 3).attr("width", lx1 - lx0).attr("height", lh).attr("fill", "#bbb");
  P.ax.append("rect").attr("x", lx0).attr("y", ly).attr("width", lx1 - lx0).attr("height", lh)
    .attr("fill", "#fff").attr("stroke", "#888").attr("stroke-width", 1.5);
  const pitch = (lx1 - lx0 - 20) / 5;
  nLabels.forEach((t, i) => {
    const ex = lx0 + 18 + i * pitch;
    P.ax.append("line").attr("x1", ex).attr("x2", ex + 0.42 * pitch).attr("y1", ly + lh / 2).attr("y2", ly + lh / 2)
      .attr("stroke", legCol[i]).attr("stroke-width", 3.5);
    P.ax.append("text").attr("x", ex + 0.46 * pitch).attr("y", ly + lh / 2 + 6)
      .attr("font-size", 17).attr("fill", "#222").text(t);
  });
  // voltage tag
  P.ax.append("text").attr("x", box[0] + voltDx[col]).attr("y", box[2] + 104)
    .attr("font-size", 46).attr("font-weight", "bold").attr("fill", "#ee1111").text(voltLabels[col]);
});

// ================= PANEL LETTERS =================
const letterPos = [["(a)", 48, 102], ["(b)", 48, 648], ["(c)", 52, 1198],
  ["(d)", 122, 1780], ["(e)", 1282, 1780], ["(f)", 2488, 1780],
  ["(g)", 122, 2492], ["(h)", 1275, 2492], ["(i)", 2495, 2492],
  ["(j)", 122, 3283], ["(k)", 1275, 3283], ["(l)", 2495, 3283]];
letterPos.forEach(([t, x, y]) => {
  svg.append("text").attr("x", x).attr("y", y).attr("font-size", 100)
    .attr("font-family", "'Liberation Serif', 'Times New Roman', serif").attr("fill", "#111").text(t);
});

// ================= (d)(e)(f) =================
const lowOpts = {
  minor: 7, major: 12, padX: 18, padY: 14, tickFont: 26, side: 2, top: 5, bottom: 5,
  titleFont: 30, xTitle: "Time (s)", xTitleDy: 88, yTitle: "\u0394EPSC (nA)", yTitleDx: 100, yTitleDy: 0,
  yTitleFont: 30, yTitleSpacing: 3
};
const volSets = [
  { box: [362, 1202, 1712, 2334], xd: [0, 8], xt: [0, 2, 4, 6, 8], yd: [-10, 650], yt: [0, 100, 200, 300, 400, 500, 600], xm: 1, ym: 50,
    series: [dV02, dV05, dV1, dV3, dV5], widths: [3, 3, 3, 2.5, 2.5], leg: [1028, 1196, 1721, 1897], pitch: 35 },
  { box: [1525, 2368, 1712, 2326], xd: [0, 8], xt: [0, 2, 4, 6, 8], yd: [-5, 120], yt: [0, 20, 40, 60, 80, 100, 120], xm: 1, ym: 10,
    series: [eV02, eV05, eV1, eV3, eV5], widths: [4, 4, 4, 3, 2.5], leg: [2177, 2361, 1719, 1898], pitch: 35 },
  { box: [2714, 3559, 1717, 2340], xd: [0, 10], xt: [0, 2, 4, 6, 8, 10], yd: [-5, 80], yt: [0, 10, 20, 30, 40, 50, 60, 70, 80], xm: 1, ym: 5,
    series: [fV02, fV05, fV1, fV3, fV5], widths: [4, 4, 4, 3, 3], leg: [3370, 3555, 1725, 1933], pitch: 40.5 }
];
volSets.forEach(s => {
  const P = makePanel(s.box, s.xd, s.yd, s.xt, s.yt, s.xm, s.ym, lowOpts);
  const line = d3.line().x(d => P.x(d[0])).y(d => P.y(d[1]));
  s.series.forEach((ser, i) => {
    P.plot.append("path").attr("d", line(ser)).attr("fill", "none")
      .attr("stroke", palLow[i]).attr("stroke-width", s.widths[i]).attr("stroke-linejoin", "round");
  });
  const [x0, x1, y0, y1] = s.leg;
  P.ax.append("rect").attr("x", x0 + 4).attr("y", y0 + 4).attr("width", x1 - x0).attr("height", y1 - y0).attr("fill", "#aaa");
  P.ax.append("rect").attr("x", x0).attr("y", y0).attr("width", x1 - x0).attr("height", y1 - y0)
    .attr("fill", "#fff").attr("stroke", "#777").attr("stroke-width", 1.5);
  legendV.forEach((t, i) => {
    const yy = y0 + 24 + i * s.pitch;
    P.ax.append("line").attr("x1", x0 + 10).attr("x2", x0 + 62).attr("y1", yy).attr("y2", yy)
      .attr("stroke", palLow[i]).attr("stroke-width", 5);
    P.ax.append("text").attr("x", x0 + 70).attr("y", yy + 9).attr("font-size", 26).attr("fill", "#111").text(t);
  });
});

// ================= (g)(h)(i) =================
const ppSets = [
  { box: [375, 1191, 2478, 3099], yd: [-5, 160], yt: [0, 20, 40, 60, 80, 100, 120, 140, 160], curve: gCurve, on: gOn,
    shade: "#cdcdf8", col: "#1f1f99",
    onText: [[1.56, "On"], [2.64, "Off"], [3.57, "On"]], onY: 147,
    dots: [[1.0, 2.6, 115], [3.05, 4.6, 139]], dt: [2.2, 3.1, 133.5], dtText: [2.62, 119.3],
    vArrows: [[2.43, 113], [4.49, 137]], a1: [1.72, 52.9], a2: [3.6, 63.8], ppf: [5.62, 93.8] },
  { box: [1520, 2366, 2469, 3091], yd: [-5, 90], yt: [0, 20, 40, 60, 80], curve: hCurve, on: hOn,
    shade: "#f9b9b9", col: "#d81e1e",
    onText: [[1.68, "On"], [2.59, "Off"], [3.61, "On"]], onY: 82.1,
    dots: [[1.09, 2.64, 56.5], [3.02, 4.55, 80.5]], dt: [2.18, 3.02, 76.7], dtText: [2.73, 65.3],
    vArrows: [[2.38, 56.5], [4.36, 80.5]], a1: [1.83, 30.6], a2: [3.68, 35.9], ppf: [5.59, 54.7] },
  { box: [2718, 3559, 2479, 3099], yd: [-5, 120], yt: [0, 20, 40, 60, 80, 100, 120], curve: iCurve, on: iOn,
    shade: "#f7b8ea", col: "#f23ed8",
    onText: [[1.53, "On"], [2.64, "Off"], [3.84, "On"]], onY: 111.1,
    dots: [[1.01, 2.41, 73], [3.15, 4.52, 111.3]], dt: [2.25, 3.15, 95.9], dtText: [2.6, 89.2],
    vArrows: [[2.36, 73], [4.39, 111.3]], a1: [1.7, 42.8], a2: [3.61, 50], ppf: [5.95, 79] }
];
function subLabel(g, x, y, main, sub, size) {
  const t = g.append("text").attr("x", x).attr("y", y).attr("font-size", size).attr("fill", "#111");
  t.append("tspan").text(main);
  t.append("tspan").attr("dy", size * 0.28).attr("font-size", size * 0.68).text(sub);
  return t;
}
ppSets.forEach(s => {
  const P = makePanel(s.box, [0, 10], s.yd, [0, 2, 4, 6, 8, 10], s.yt, 1, 10, Object.assign({}, lowOpts, { xTitleDy: 90 }));
  s.on.forEach(([a, b]) => {
    P.under.append("rect").attr("x", P.x(a)).attr("y", s.box[2]).attr("width", P.x(b) - P.x(a))
      .attr("height", s.box[3] - s.box[2]).attr("fill", s.shade);
  });
  const line = d3.line().x(d => P.x(d[0])).y(d => P.y(d[1])).curve(d3.curveMonotoneX);
  P.plot.append("path").attr("d", line(s.curve)).attr("fill", "none").attr("stroke", s.col).attr("stroke-width", 3);
  const A = P.ax;
  s.onText.forEach(([t, label]) => {
    A.append("text").attr("x", P.x(t)).attr("y", P.y(s.onY)).attr("text-anchor", "middle")
      .attr("font-size", 42).attr("fill", "#111").text(label);
  });
  s.dots.forEach(([a, b, v]) => {
    A.append("line").attr("x1", P.x(a)).attr("x2", P.x(b)).attr("y1", P.y(v)).attr("y2", P.y(v))
      .attr("stroke", "#222").attr("stroke-width", 3).attr("stroke-dasharray", "2,2");
  });
  A.append("line").attr("x1", P.x(s.dt[0])).attr("x2", P.x(s.dt[1])).attr("y1", P.y(s.dt[2])).attr("y2", P.y(s.dt[2]))
    .attr("stroke", "#111").attr("stroke-width", 2.5).attr("marker-start", "url(#ah)").attr("marker-end", "url(#ah)");
  A.append("text").attr("x", P.x(s.dtText[0])).attr("y", P.y(s.dtText[1])).attr("text-anchor", "middle")
    .attr("font-size", 40).attr("fill", "#111").text("\u0394t");
  s.vArrows.forEach(([t, v]) => {
    A.append("line").attr("x1", P.x(t)).attr("x2", P.x(t)).attr("y1", P.y(v)).attr("y2", P.y(0))
      .attr("stroke", "#111").attr("stroke-width", 2).attr("marker-start", "url(#ah)").attr("marker-end", "url(#ah)");
  });
  subLabel(A, P.x(s.a1[0]), P.y(s.a1[1]), "A", "1", 42);
  subLabel(A, P.x(s.a2[0]), P.y(s.a2[1]), "A", "2", 42);
  const ppf = A.append("text").attr("x", P.x(s.ppf[0])).attr("y", P.y(s.ppf[1])).attr("font-size", 42).attr("fill", "#111");
  ppf.append("tspan").text("PPF= A");
  ppf.append("tspan").attr("dy", 12).attr("font-size", 29).text("2");
  ppf.append("tspan").attr("dy", -12).text("/A");
  ppf.append("tspan").attr("dy", 12).attr("font-size", 29).text("1");
});

// ================= (j)(k)(l) =================
const ppfSets = [
  { box: [362, 1202, 3243, 3865], yd: [0.95, 1.4], yt: [1.0, 1.1, 1.2, 1.3, 1.4], ym: 0.05, vals: jPPF, fit: jFit, col: "#1a1a96", ball: "ballBlue" },
  { box: [1527, 2373, 3246, 3867], yd: [0.8, 1.8], yt: [0.8, 1.0, 1.2, 1.4, 1.6, 1.8], ym: 0.1, vals: kPPF, fit: kFit, col: "#d41a1a", ball: "ballRed" },
  { box: [2725, 3570, 3247, 3867], yd: [0.95, 1.75], yt: [1.0, 1.1, 1.2, 1.3, 1.4, 1.5, 1.6, 1.7], ym: 0.05, vals: lPPF, fit: lFit, col: "#ff30e6", ball: "ballMag" }
];
ppfSets.forEach(s => {
  const P = makePanel(s.box, [-2.5, 22.5], s.yd, [0, 5, 10, 15, 20], s.yt, 2.5, s.ym,
    Object.assign({}, lowOpts, { xTitle: "\u0394Time (s)", xTitleDy: 92, yTitle: "PPF Indexing", yTitleSpacing: 2, fmtY: d3.format(".1f") }));
  const line = d3.line().x(d => P.x(d[0])).y(d => P.y(d[1])).curve(d3.curveMonotoneX);
  P.plot.append("path").attr("d", line(s.fit)).attr("fill", "none").attr("stroke", s.col).attr("stroke-width", 3.5);
  P.plot.selectAll("circle").data(deltaT).enter().append("circle")
    .attr("cx", d => P.x(d)).attr("cy", (d, i) => P.y(s.vals[i])).attr("r", 8.5)
    .attr("fill", `url(#${s.ball})`);
});
</script>
</body>
</html>
